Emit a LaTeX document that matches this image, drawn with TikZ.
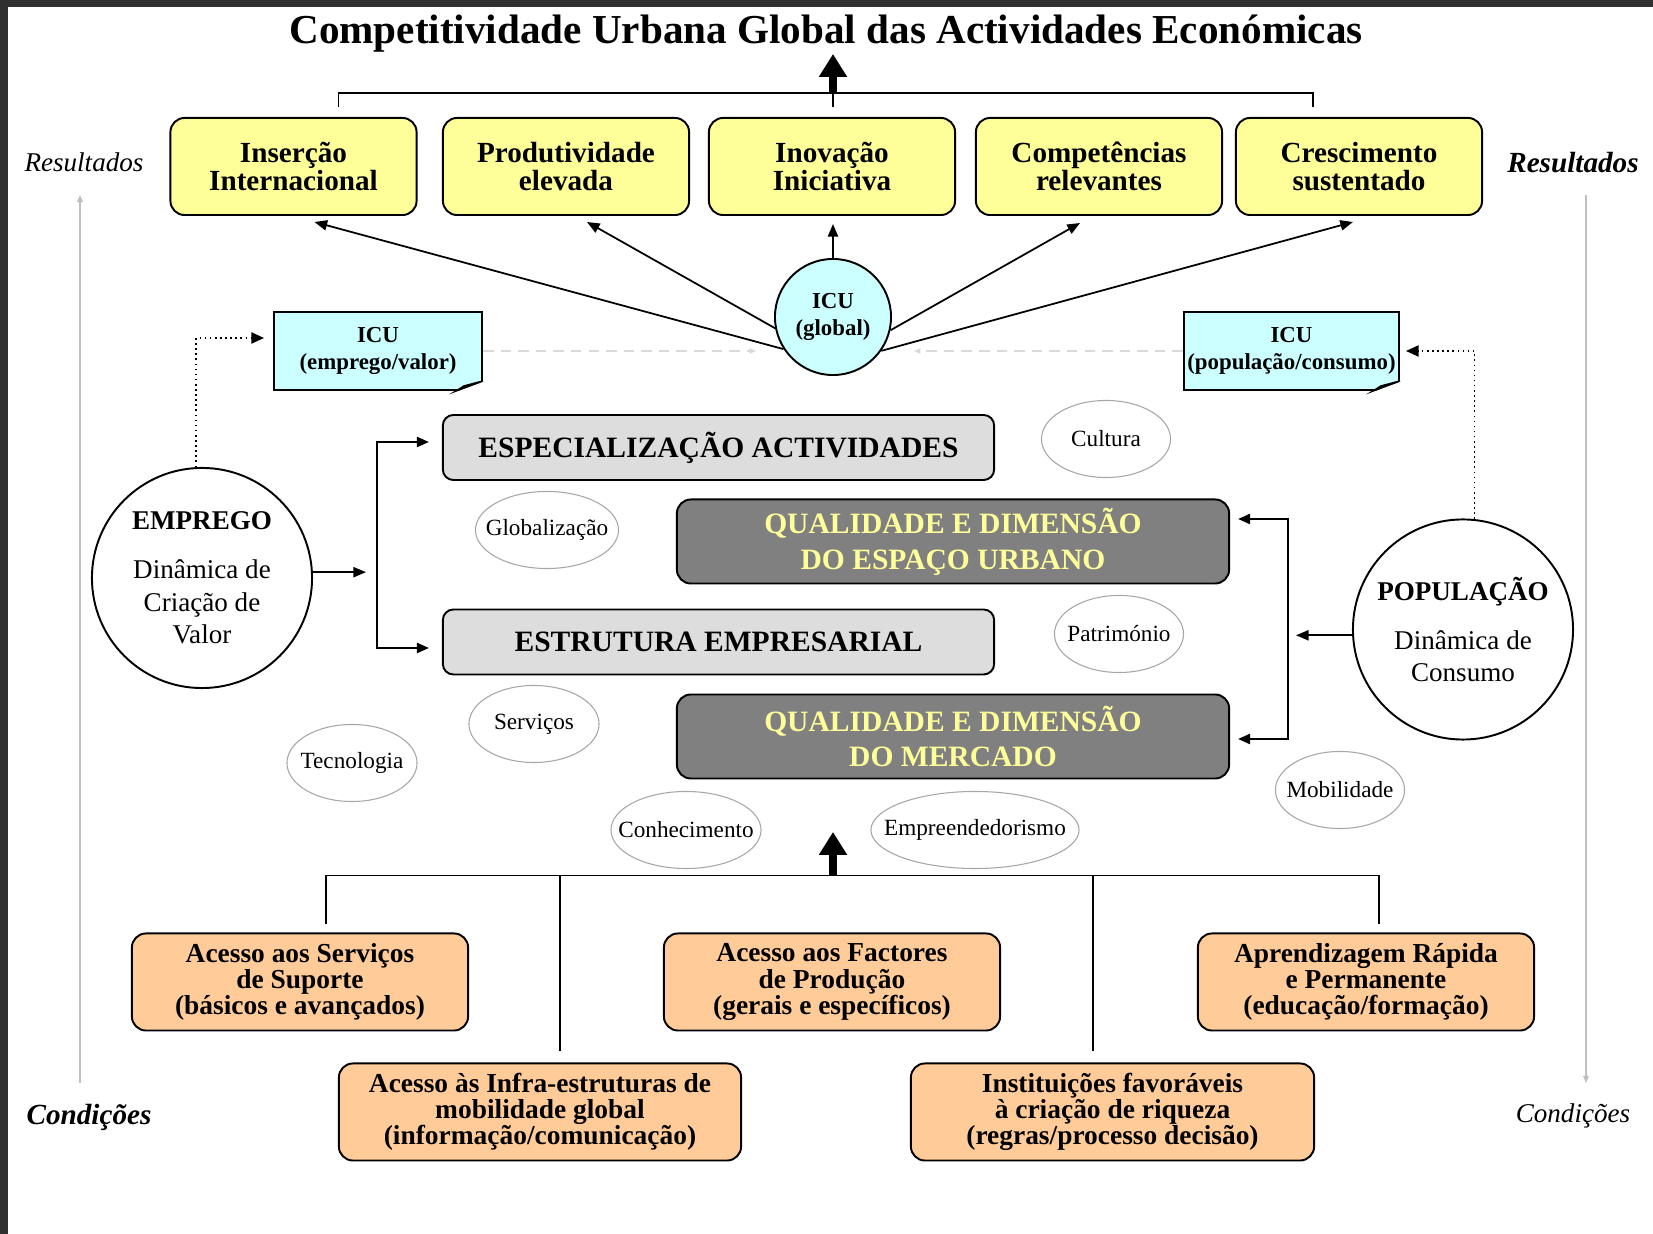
\documentclass[tikz,border=0pt]{standalone}
\usepackage{fontspec}
\setmainfont{Liberation Serif}
\usepackage{tikz}
\usetikzlibrary{shapes.geometric, arrows.meta, positioning, calc, backgrounds}

\definecolor{resyellow}{HTML}{FFFF99}
\definecolor{icucyan}{HTML}{CCFFFF}
\definecolor{icufold}{HTML}{99D6D6}
\definecolor{sectgray}{HTML}{DDDDDD}
\definecolor{qualdark}{HTML}{808080}
\definecolor{qualtext}{HTML}{FFFF99}
\definecolor{condorange}{HTML}{FFCC99}
\definecolor{framegray}{HTML}{303030}

\begin{document}
\begin{tikzpicture}[x=0.01cm, y=-0.01cm,
    result/.style={rectangle, draw, line width=0.55pt, fill=resyellow, rounded corners=4pt, minimum width=2.46cm, minimum height=0.97cm, align=center, inner sep=0pt, font=\fontsize{8.3}{8.1}\selectfont\bfseries},
    icubox/.style={rectangle, draw, line width=0.55pt, fill=icucyan, minimum height=0.78cm, align=center, inner sep=0pt, font=\fontsize{6.5}{7.8}\selectfont\bfseries},
    sector/.style={rectangle, draw, line width=0.55pt, fill=sectgray, rounded corners=3pt, minimum width=5.51cm, minimum height=0.65cm, inner sep=0pt, font=\fontsize{8.4}{10}\selectfont\bfseries},
    quality/.style={rectangle, draw, line width=0.55pt, fill=qualdark, text=qualtext, rounded corners=4pt, minimum width=5.52cm, minimum height=0.84cm, align=center, inner sep=0pt, font=\fontsize{8.4}{10.2}\selectfont\bfseries},
    driver/.style={circle, draw, line width=0.55pt, minimum size=2.2cm, align=center, inner sep=0pt, font=\fontsize{7.7}{9.2}\selectfont},
    factor/.style={ellipse, draw=gray!70, line width=0.3pt, minimum height=0.77cm, inner sep=0pt, font=\fontsize{6.6}{8}\selectfont},
    condition/.style={rectangle, draw, line width=0.55pt, fill=condorange, rounded corners=4pt, minimum height=0.97cm, align=center, inner sep=0pt, font=\fontsize{7.8}{7.4}\selectfont\bfseries},
    sidelabel/.style={font=\fontsize{7.7}{9}\selectfont\itshape},
    sidebold/.style={font=\fontsize{8.3}{9}\selectfont\bfseries\itshape},
    arrow/.style={-{Triangle[length=3.6pt, width=2.9pt]}, line width=0.5pt},
    twoarrow/.style={{Triangle[length=3.4pt, width=2.9pt]}-{Triangle[length=3.4pt, width=2.9pt]}, line width=0.5pt},
    bigarrow/.style={-{Triangle[length=6.5pt, width=7.6pt]}, line width=2pt},
    link/.style={line width=0.55pt},
    dotarrow/.style={-{Triangle[length=3.6pt, width=3.2pt]}, densely dotted, line width=0.45pt},
    faint/.style={-{Triangle[length=1.8pt, width=1.5pt]}, gray!30, densely dashed, line width=0.35pt},
    sidearrow/.style={-{Triangle[length=2pt, width=1.6pt]}, gray!50, line width=0.35pt}
]
% Page and screen edge
\fill[white] (0,0) rectangle (1653,1234);
\fill[framegray] (0,0) rectangle (8,1234);
\fill[framegray] (0,0) rectangle (1653,7);
\useasboundingbox (0,0) rectangle (1653,1234);
% Title
\node[font=\fontsize{11.7}{13}\selectfont\bfseries] (title) at (826,34) {Competitividade Urbana Global das Actividades Económicas};
% Results row
\node[result] (ins) at (293.5,166.5) {Inserção\\Internacional};
\node[result] (prod) at (566,166.5) {Produtividade\\elevada};
\node[result] (inov) at (832,166.5) {Inovação\\Iniciativa};
\node[result] (comp) at (1099,166.5) {Competências\\relevantes};
\node[result] (cresc) at (1359,166.5) {Crescimento\\sustentado};
% ICU indicators
\node[circle, draw, line width=0.55pt, fill=icucyan, minimum size=1.16cm, inner sep=0pt, align=center, font=\fontsize{6.5}{7.6}\selectfont\bfseries] (icug) at (833,317) {ICU\\(global)};
\node[icubox, minimum width=2.08cm] (icue) at (378,351) {ICU\\(emprego/valor)};
\node[icubox, minimum width=2.15cm] (icup) at (1291.5,351) {ICU\\(população/consumo)};
\fill[white] ($(icue.south east)+(-27,1)$) -- ($(icue.south east)+(1,1)$) -- ($(icue.south east)+(1,-11)$) -- cycle;
\filldraw[fill=icufold, line width=0.45pt] ($(icue.south east)+(-27,0)$) -- ($(icue.south east)+(0,-10)$) -- ($(icue.south east)+(-19,-5)$) -- cycle;
\fill[white] ($(icup.south east)+(-27,1)$) -- ($(icup.south east)+(1,1)$) -- ($(icup.south east)+(1,-11)$) -- cycle;
\filldraw[fill=icufold, line width=0.45pt] ($(icup.south east)+(-27,0)$) -- ($(icup.south east)+(0,-10)$) -- ($(icup.south east)+(-19,-5)$) -- cycle;
% Central blocks
\node[sector] (espec) at (718.5,447.5) {ESPECIALIZAÇÃO ACTIVIDADES};
\node[quality] (qesp) at (953,541.5) {QUALIDADE E DIMENSÃO\\DO ESPAÇO URBANO};
\node[sector] (estr) at (718.5,642) {ESTRUTURA EMPRESARIAL};
\node[quality] (qmerc) at (953,736.5) {QUALIDADE E DIMENSÃO\\DO MERCADO};
\coordinate (axisend) at (833,804);
\begin{scope}[on background layer]
\draw[densely dotted, line width=0.4pt] (icug.south) -- (axisend);
\end{scope}
% Drivers
\node[driver] (emprego) at (202,578) {\textbf{EMPREGO}\\[4.7pt]Dinâmica de\\Criação de\\Valor};
\node[driver] (popul) at (1463,629.5) {\textbf{POPULAÇÃO}\\[4.7pt]Dinâmica de\\Consumo};
% Factors
\node[factor, minimum width=1.29cm] (cultura) at (1106,439) {\makebox[0pt]{Cultura}};
\node[factor, minimum width=1.43cm] (glob) at (547,530) {\makebox[0pt]{Globalização}};
\node[factor, minimum width=1.29cm] (patr) at (1119,634) {\makebox[0pt]{Património}};
\node[factor, minimum width=1.30cm] (servicos) at (534,724) {\makebox[0pt]{Serviços}};
\node[factor, minimum width=1.30cm] (tecno) at (352,763) {\makebox[0pt]{Tecnologia}};
\node[factor, minimum width=1.29cm] (mobil) at (1340,790) {\makebox[0pt]{Mobilidade}};
\node[factor, minimum width=1.50cm] (conhec) at (686,830) {\makebox[0pt]{Conhecimento}};
\node[factor, minimum width=2.08cm] (empreend) at (975,830) {\makebox[0pt]{Empreendedorismo}};
% Conditions
\node[condition, minimum width=3.36cm] (acserv) at (300,982) {Acesso aos Serviços\\de Suporte\\(básicos e avançados)};
\node[condition, minimum width=3.36cm] (acfact) at (832,982) {Acesso aos Factores\\de Produção\\(gerais e específicos)};
\node[condition, minimum width=3.36cm] (aprend) at (1366,982) {Aprendizagem Rápida\\e Permanente\\(educação/formação)};
\node[condition, minimum width=4.02cm] (acinfra) at (540,1112) {Acesso às Infra-estruturas de\\mobilidade global\\(informação/comunicação)};
\node[condition, minimum width=4.03cm] (instit) at (1112.5,1112) {Instituições favoráveis\\à criação de riqueza\\(regras/processo decisão)};
% Side labels
\node[sidelabel] (resL) at (84,162) {Resultados};
\node[sidebold] (resR) at (1573,163) {Resultados};
\node[sidebold] (condL) at (89,1117) {Condições};
\node[sidelabel] (condR) at (1573,1116) {Condições};
\coordinate (leftlow) at (80,1083);
\coordinate (lefttop) at (80,195);
\coordinate (righttop) at (1586,195);
\coordinate (rightlow) at (1586,1083);
\draw[sidearrow] (leftlow) -- (lefttop);
\draw[sidearrow] (righttop) -- (rightlow);
% ICU global to results
\draw[arrow] (icug.213) -- ($(ins.south)+(21,6)$);
\draw[arrow] (icug.191) -- ($(prod.south)+(21,6)$);
\draw[arrow] (icug.north) -- ($(inov.south)+(1,8)$);
\draw[arrow] (icug.347) -- ($(comp.south)+(-19,7)$);
\draw[arrow] (icug.325) -- ($(cresc.south)+(-6,6)$);
% Results to title
\coordinate (topjoin) at (833,94);
\draw[link] ($(ins.north)+(45,-10)$) |- ($(cresc.north)+(-46,-24)$) -- ($(cresc.north)+(-46,-10)$);
\draw[link] ($(inov.north)+(1,-10)$) -- (topjoin);
\draw[bigarrow] (topjoin) -- ++(0,-40);
% Indicators
\draw[dotarrow, shorten >=0.09cm] (emprego.93) |- ($(icue.west)+(0,-13)$);
\draw[dotarrow, shorten >=0.06cm] (popul.84) |- (icup.east);
\draw[faint, shorten >=0.18cm] (icue.east) -- (icue.east -| icug.west);
\draw[faint, shorten >=0.22cm] (icup.west) -- (icup.west -| icug.east);
% Drivers to blocks
\coordinate (brL1) at (377,442);
\coordinate (brL2) at (377,648);
\draw[arrow, shorten >=0.11cm] (emprego.3) -- (emprego.3 -| brL1);
\draw[twoarrow] ($(espec.west)+(-13,-5.5)$) -- (brL1) -- (brL2) -- ($(estr.west)+(-13,6)$);
\coordinate (brR1) at (1288,519);
\coordinate (brR2) at (1288,739);
\draw[arrow, shorten >=0.08cm] (popul.183) -- (popul.183 -| brR1);
\draw[twoarrow] ($(qesp.east)+(8,-22.5)$) -- (brR1) -- (brR2) -- ($(qmerc.east)+(8,2.5)$);
% Conditions to blocks
\coordinate (botjoin) at (833,876);
\draw[link] ($(acserv.north)+(26,-8)$) |- ($(aprend.north)+(13,-57)$) -- ($(aprend.north)+(13,-8)$);
\draw[link] ($(acinfra.north)+(20,-11)$) -- ($(acinfra.north)+(20,-187)$);
\draw[link] ($(instit.north)+(-19.5,-11)$) -- ($(instit.north)+(-19.5,-187)$);
\draw[bigarrow] (botjoin) -- ++(0,-44);
\end{tikzpicture}
\end{document}
